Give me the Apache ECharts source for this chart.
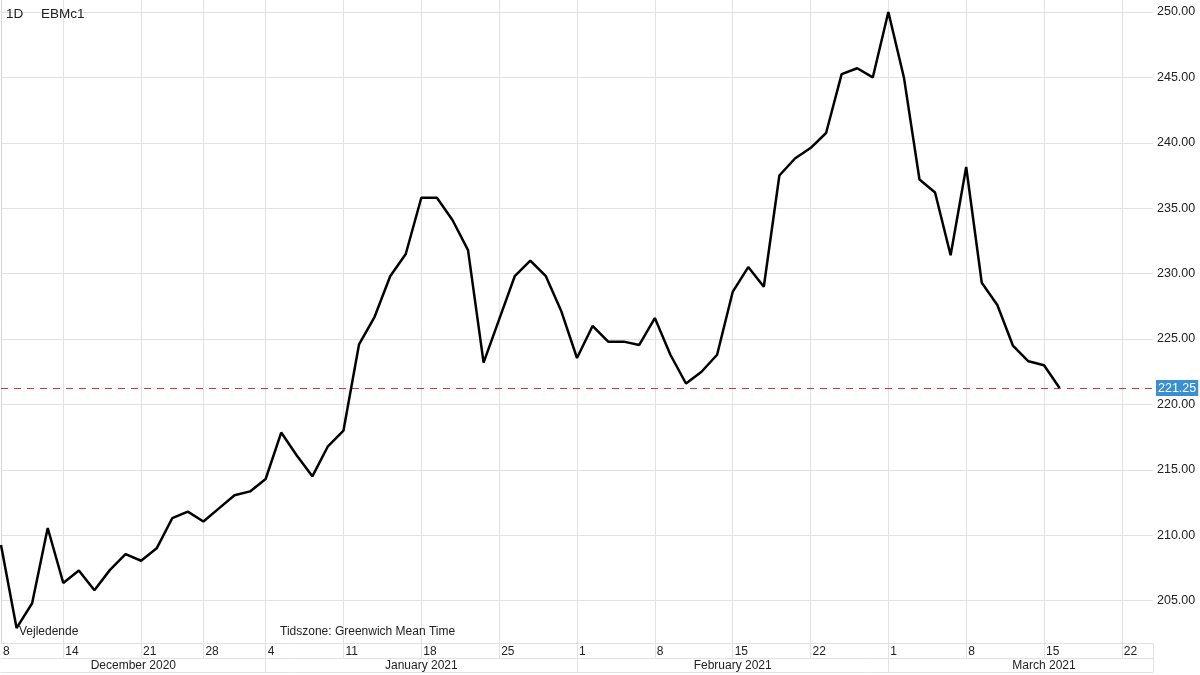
<!DOCTYPE html>
<html>
<head>
<meta charset="utf-8">
<script src="https://cdn.jsdelivr.net/npm/echarts@6/dist/echarts.min.js"></script>
<style>
html,body{margin:0;padding:0;background:#fff;}
#chart{width:1200px;height:675px;}
</style>
</head>
<body>
<div id="chart"></div>
<script>
// Trading days shown on the x axis
const dates = [
  '2020-12-08','2020-12-09','2020-12-10','2020-12-11',
  '2020-12-14','2020-12-15','2020-12-16','2020-12-17','2020-12-18',
  '2020-12-21','2020-12-22','2020-12-23','2020-12-24',
  '2020-12-28','2020-12-29','2020-12-30','2020-12-31',
  '2021-01-04','2021-01-05','2021-01-06','2021-01-07','2021-01-08',
  '2021-01-11','2021-01-12','2021-01-13','2021-01-14','2021-01-15',
  '2021-01-18','2021-01-19','2021-01-20','2021-01-21','2021-01-22',
  '2021-01-25','2021-01-26','2021-01-27','2021-01-28','2021-01-29',
  '2021-02-01','2021-02-02','2021-02-03','2021-02-04','2021-02-05',
  '2021-02-08','2021-02-09','2021-02-10','2021-02-11','2021-02-12',
  '2021-02-15','2021-02-16','2021-02-17','2021-02-18','2021-02-19',
  '2021-02-22','2021-02-23','2021-02-24','2021-02-25','2021-02-26',
  '2021-03-01','2021-03-02','2021-03-03','2021-03-04','2021-03-05',
  '2021-03-08','2021-03-09','2021-03-10','2021-03-11','2021-03-12',
  '2021-03-15','2021-03-16','2021-03-17','2021-03-18','2021-03-19',
  '2021-03-22','2021-03-23','2021-03-24'
];

// Closing prices (EBMc1)
const prices = [
  209.25, 202.9, 204.8, 210.55,
  206.35, 207.3, 205.8, 207.35, 208.55,
  208.05, 209.0, 211.3, 211.8,
  211.05, 212.05, 213.05, 213.35,
  214.3, 217.85, 216.1, 214.5, 216.8,
  218.0, 224.6, 226.7, 229.8, 231.5,
  235.8, 235.8, 234.1, 231.8, 223.2,
  226.5, 229.8, 231.0, 229.8, 227.1,
  223.55, 226.0, 224.8, 224.8, 224.55,
  226.6, 223.8, 221.6, 222.5, 223.8,
  228.6, 230.5, 229.0, 237.5, 238.8,
  239.6, 240.75, 245.25, 245.7, 245.0,
  250.0, 245.0, 237.2, 236.2, 231.4,
  238.15, 229.3, 227.6, 224.5, 223.3,
  223.0, 221.25
];

// Price axis tick labels
const priceTicks = [205, 210, 215, 220, 225, 230, 235, 240, 245, 250];

// Month labels (label anchor in trading-day index units) and month boundaries
const monthNames = ['December 2020', 'January 2021', 'February 2021', 'March 2021'];
const monthLabelAt = [8.5, 27, 47, 67];
const monthBounds = [17, 37, 57, 74];

const lastPrice = prices[prices.length - 1];

// Indices of Mondays (week starts) for ticks / gridlines
const weekStart = new Set();
dates.forEach((d, i) => { if (new Date(d + 'T12:00:00Z').getUTCDay() === 1) weekStart.add(i); });
const labelIdx = new Set(weekStart); labelIdx.add(0);
const tickIdx = new Set(weekStart); tickIdx.add(dates.length - 1);

const FONT = 'Liberation Sans, Arial, sans-serif';
const GRID = '#e2e2e2';
const TXT = '#222';

const chart = echarts.init(document.getElementById('chart'), null, {renderer: 'canvas'});
chart.setOption({
  animation: false,
  backgroundColor: '#ffffff',
  textStyle: {fontFamily: FONT},
  grid: {left: 0, right: 47, top: 0, bottom: 32, containLabel: false},
  xAxis: [
    {
      type: 'category',
      data: dates,
      boundaryGap: false,
      axisLine: {show: true, lineStyle: {color: GRID, width: 1}},
      axisTick: {show: true, length: 15, interval: (i) => tickIdx.has(i), lineStyle: {color: GRID}},
      axisLabel: {
        interval: (i) => labelIdx.has(i),
        formatter: (v) => String(parseInt(v.slice(8), 10)),
        align: 'left', margin: 3, padding: [0, 0, 0, 2],
        fontSize: 12, color: TXT, fontFamily: FONT,
        hideOverlap: false
      },
      splitLine: {show: true, interval: (i) => weekStart.has(i), lineStyle: {color: GRID, width: 1}}
    },
    {
      type: 'value', min: 0, max: dates.length - 1,
      position: 'bottom', offset: 15,
      axisLine: {show: true, onZero: false, lineStyle: {color: GRID}},
      axisTick: {show: true, length: 14, customValues: monthBounds, lineStyle: {color: GRID}},
      axisLabel: {
        customValues: monthLabelAt,
        formatter: (v) => monthNames[monthLabelAt.indexOf(v)] || '',
        margin: 2, fontSize: 12, color: TXT, fontFamily: FONT
      },
      splitLine: {show: false}
    },
    {
      type: 'value', min: 0, max: dates.length - 1,
      position: 'bottom', offset: 29,
      axisLine: {show: true, onZero: false, lineStyle: {color: GRID}},
      axisTick: {show: false}, axisLabel: {show: false}, splitLine: {show: false}
    }
  ],
  yAxis: {
    type: 'value',
    position: 'right',
    min: 201.76, max: 250.92,
    axisLine: {show: true, lineStyle: {color: '#d6d6d6'}},
    axisTick: {show: false, customValues: priceTicks},
    axisLabel: {
      customValues: priceTicks,
      formatter: (v) => v.toFixed(2),
      margin: 4, fontSize: 12.5, color: TXT, fontFamily: FONT
    },
    splitLine: {show: true, lineStyle: {color: GRID, width: 1}}
  },
  series: [{
    type: 'line',
    name: 'EBMc1',
    data: prices,
    showSymbol: false,
    symbol: 'none',
    lineStyle: {color: '#000', width: 2.5},
    z: 5,
    markLine: {
      silent: true,
      symbol: 'none',
      data: [{yAxis: lastPrice}],
      lineStyle: {color: '#cc3b3b', type: [7, 6], width: 1},
      label: {
        show: true, position: 'end', distance: 3,
        formatter: () => lastPrice.toFixed(2),
        color: '#fff', backgroundColor: '#3a8fd3',
        padding: [2, 2, 1, 2], fontSize: 12.5, fontFamily: FONT
      }
    }
  }],
  graphic: [
    {type: 'text', left: 6, top: 7, z: 100, style: {text: '1D', fontSize: 13.5, fill: TXT, fontFamily: FONT}},
    {type: 'text', left: 41, top: 7, z: 100, style: {text: 'EBMc1', fontSize: 13.5, fill: TXT, fontFamily: FONT}},
    {type: 'text', left: 19, top: 626, z: 100, style: {text: 'Vejledende', fontSize: 12, fill: TXT, fontFamily: FONT}},
    {type: 'text', left: 280, top: 626, z: 100, style: {text: 'Tidszone: Greenwich Mean Time', fontSize: 12, fill: TXT, fontFamily: FONT}}
  ]
});
</script>
</body>
</html>
